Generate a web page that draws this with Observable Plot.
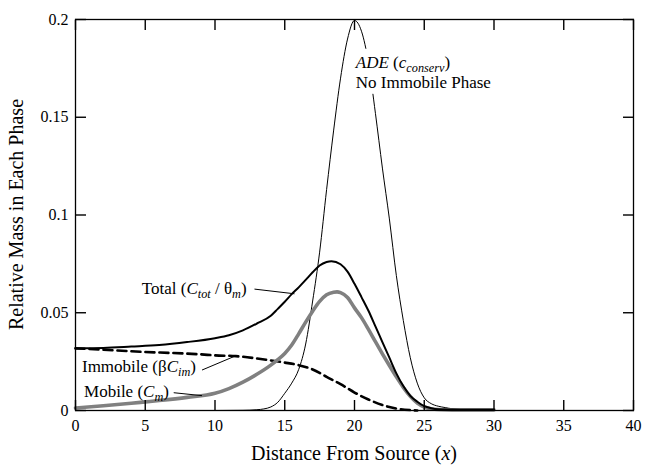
<!DOCTYPE html>
<html><head><meta charset="utf-8">
<script src="https://cdn.jsdelivr.net/npm/d3@7"></script>
<script src="https://cdn.jsdelivr.net/npm/@observablehq/plot@0.6"></script>
<style>html,body{margin:0;padding:0;background:#fff} svg{display:block}</style>
</head><body><div id="chart"></div>
<script>
// ---- data ----
const adeX = [0,5,10,12,13,13.5,14,14.5,15,15.5,16,16.5,17,17.5,18,18.5,19,19.5,20,20.5,21,21.5,22,22.5,23,23.5,24,24.5,25,25.5,26,26.5,27,28,29,30];
const adeY = [0,0,0,0.0001,0.0004,0.0008,0.0018,0.0042,0.0088,0.014,0.021,0.034,0.056,0.081,0.113,0.143,0.170,0.190,0.1995,0.194,0.178,0.152,0.124,0.098,0.069,0.046,0.027,0.014,0.0065,0.0035,0.0022,0.0015,0.0009,0.0005,0.0004,0.0004];

const totalX = [0,2,4,6,8,10,11,12,13,14,14.5,15,15.5,16,16.5,17,17.5,18,18.35,19,19.5,20,20.5,21,21.5,22,22.5,23,23.5,24,24.5,25,25.5,26,27,28,30];
const totalY = [0.0318,0.0320,0.0327,0.0335,0.0350,0.0370,0.0385,0.041,0.0445,0.0485,0.052,0.0556,0.0595,0.063,0.0668,0.0707,0.0742,0.0760,0.0764,0.0748,0.071,0.0648,0.058,0.051,0.043,0.035,0.027,0.019,0.0125,0.0075,0.0045,0.0022,0.0012,0.0007,0.0005,0.0004,0.0004];

const mobileX = [0,2,4,5,6,8,10,11,12,13,14,14.5,15,15.5,16,16.5,17,17.5,18,18.5,18.75,19,19.5,20,20.5,21,21.5,22,22.5,23,23.5,24,24.5,25,25.5,26,27,30];
const mobileY = [0.0013,0.0024,0.0037,0.0044,0.0051,0.0067,0.0088,0.0112,0.0145,0.0185,0.0232,0.026,0.0292,0.0335,0.0392,0.0452,0.0508,0.0558,0.0592,0.0605,0.0607,0.0603,0.0578,0.0525,0.0475,0.0415,0.0352,0.029,0.023,0.0172,0.0118,0.0072,0.0038,0.0018,0.0009,0.0005,0.0003,0.0003];

const immX = [0,3,5,7,9,10,11.5,13,14,15,16,17,18,19,20,21,22,23,24,24.5];
const immY = [0.0318,0.0307,0.0299,0.0294,0.0287,0.0282,0.0278,0.0266,0.0256,0.0245,0.0232,0.021,0.0172,0.0135,0.0092,0.0056,0.0028,0.001,0.0002,0];

const xTicks = [0,5,10,15,20,25,30,35,40];
const yTicks = [0,0.05,0.1,0.15,0.2];
const yTickLabels = ["0","0.05","0.1","0.15","0.2"];

// annotation anchors (data coordinates)
const annX = [20.13, 20.13, 4.79, 0.5, 0.65];
const annY = [0.175, 0.1648, 0.0595, 0.0192, 0.0064];
const ptrX1 = [12.83, 9.07, 7.04];
const ptrY1 = [0.0621, 0.0207, 0.0091];
const ptrX2 = [15.7, 11.46, 9.07];
const ptrY2 = [0.0597, 0.0279, 0.0076];

const xTitle = "Distance From Source (";
const xTitleVar = "x";
const yTitle = "Relative Mass in Each Phase";

// ---- build ----
const W = 645, H = 470, ML = 75, MR = 12, MT = 19, MB = 60;
const xDom = [0, 40], yDom = [0, 0.2];
const rows = (xs, ys) => xs.map((x, i) => ({x, y: ys[i]}));
const pointers = ptrX1.map((_, i) => ({x1: ptrX1[i], y1: ptrY1[i], x2: ptrX2[i], y2: ptrY2[i]}));
const FONT = "'Liberation Serif', 'Times New Roman', serif";
const noText = () => "";

const plot = Plot.plot({
  width: W, height: H,
  marginLeft: ML, marginRight: MR, marginTop: MT, marginBottom: MB,
  style: {fontFamily: FONT, fontSize: "16px", color: "black", background: "white", overflow: "visible"},
  x: {domain: xDom},
  y: {domain: yDom},
  marks: [
    Plot.line(rows(adeX, adeY), {x: "x", y: "y", stroke: "black", strokeWidth: 1, curve: "monotone-x"}),
    Plot.line(rows(immX, immY), {x: "x", y: "y", stroke: "black", strokeWidth: 2.6, strokeDasharray: "9,5", curve: "monotone-x"}),
    Plot.line(rows(mobileX, mobileY), {x: "x", y: "y", stroke: "#808080", strokeWidth: 3.6, curve: "monotone-x"}),
    Plot.line(rows(totalX, totalY), {x: "x", y: "y", stroke: "black", strokeWidth: 2, curve: "monotone-x"}),
    Plot.link(pointers, {x1: "x1", y1: "y1", x2: "x2", y2: "y2", stroke: "black", strokeWidth: 1}),
    // inward ticks on all four sides (negative tick size points into the frame)
    Plot.axisX(xTicks, {anchor: "bottom", tickSize: -10, tickFormat: noText, label: null, stroke: "black", strokeWidth: 1.4}),
    Plot.axisX(xTicks, {anchor: "top", tickSize: -10, tickFormat: noText, label: null, stroke: "black", strokeWidth: 1.4}),
    Plot.axisY(yTicks, {anchor: "left", tickSize: -11, tickFormat: noText, label: null, stroke: "black", strokeWidth: 1.4}),
    Plot.axisY(yTicks, {anchor: "right", tickSize: -11, tickFormat: noText, label: null, stroke: "black", strokeWidth: 1.4}),
    Plot.frame({stroke: "black", strokeWidth: 1.3}),
    Plot.axisX(xTicks, {anchor: "bottom", tickSize: 0, tickPadding: 9, label: null, fontSize: 16}),
    Plot.axisY(yTicks, {anchor: "left", tickSize: 0, tickPadding: 7, label: null, fontSize: 16,
      tickFormat: (d) => yTickLabels[yTicks.indexOf(d)]})
  ]
});
document.getElementById("chart").appendChild(plot);

const svg = d3.select(plot);
const sx = plot.scale("x"), sy = plot.scale("y");

// rich text helper: parts = [[text, kind]], kind: "" | "i" | "sub"
function rich(parts, x, y, size = 17) {
  const t = svg.append("text")
    .attr("x", sx.apply(x)).attr("y", sy.apply(y)).attr("text-anchor", "start")
    .attr("font-family", FONT).attr("font-size", size).attr("fill", "black");
  let shifted = false;
  parts.forEach(([txt, kind]) => {
    const s = t.append("tspan").text(txt);
    if (kind === "sub") {
      s.attr("font-style", "italic").attr("font-size", size * 0.72);
      if (!shifted) { s.attr("dy", 4); shifted = true; }
    } else {
      if (shifted) { s.attr("dy", -4); shifted = false; }
      if (kind === "i") s.attr("font-style", "italic");
    }
  });
  return t;
}

// ADE label with white background
const adeG = svg.append("g");
const a1 = rich([["ADE", "i"], [" (", ""], ["c", "i"], ["conserv", "sub"], [")", ""]], annX[0], annY[0]);
const a2 = rich([["No Immobile Phase", ""]], annX[1], annY[1]);
adeG.node().appendChild(a1.node());
adeG.node().appendChild(a2.node());
const b1 = a1.node().getBBox(), b2 = a2.node().getBBox();
const bx0 = Math.min(b1.x, b2.x) - 3, by0 = b1.y - 4;
const bx1 = Math.max(b1.x + b1.width, b2.x + b2.width) + 3, by1 = b2.y + b2.height + 2;
adeG.insert("rect", ":first-child").attr("x", bx0).attr("y", by0)
  .attr("width", bx1 - bx0).attr("height", by1 - by0).attr("fill", "white");

rich([["Total (", ""], ["C", "i"], ["tot", "sub"], [" / ", ""], ["θ", ""], ["m", "sub"], [")", ""]], annX[2], annY[2]);
rich([["Immobile (β", ""], ["C", "i"], ["im", "sub"], [")", ""]], annX[3], annY[3]);
rich([["Mobile (", ""], ["C", "i"], ["m", "sub"], [")", ""]], annX[4], annY[4]);

// axis titles
const xr = sx.range, yr = sy.range;
const xt = svg.append("text").attr("x", (xr[0] + xr[1]) / 2).attr("y", 460)
  .attr("text-anchor", "middle").attr("font-family", FONT).attr("font-size", 20).attr("fill", "black");
xt.append("tspan").text(xTitle);
xt.append("tspan").attr("font-style", "italic").text(xTitleVar);
xt.append("tspan").text(")");
svg.append("text").attr("transform", `translate(23,${(yr[0] + yr[1]) / 2}) rotate(-90)`)
  .attr("text-anchor", "middle").attr("font-family", FONT).attr("font-size", 20).attr("fill", "black")
  .text(yTitle);
</script>
</body></html>
